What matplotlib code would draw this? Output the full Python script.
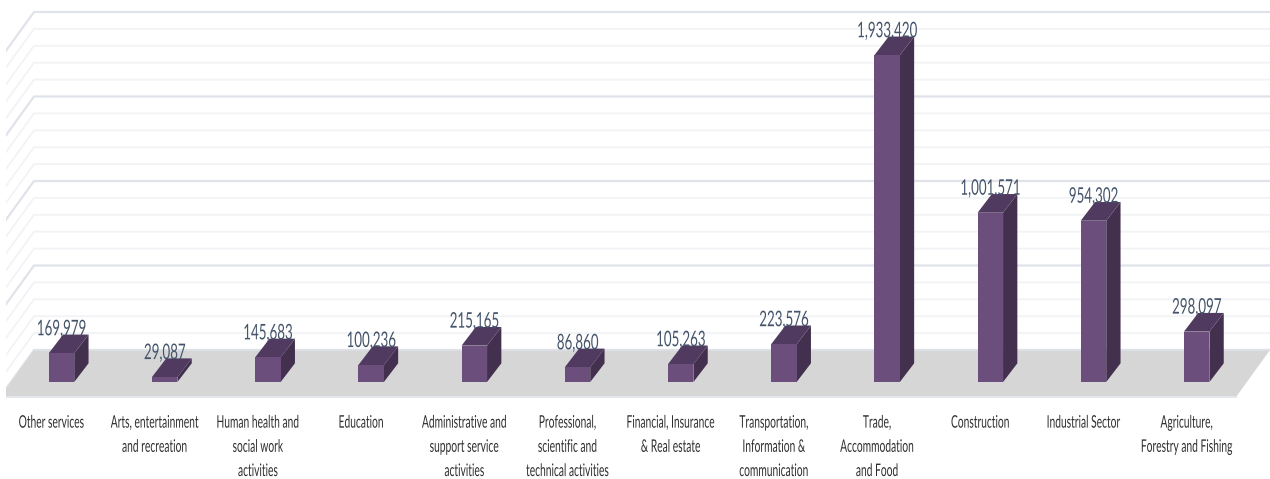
import matplotlib
matplotlib.use("Agg")
import matplotlib.pyplot as plt
import matplotlib.patheffects as pe
from matplotlib.patches import Polygon
from matplotlib.transforms import Affine2D, ScaledTranslation

categories = ["Other services", "Arts, entertainment\nand recreation",
              "Human health and\nsocial work\nactivities", "Education",
              "Administrative and\nsupport service\nactivities",
              "Professional,\nscientific and\ntechnical activities",
              "Financial, Insurance\n& Real estate",
              "Transportation,\nInformation &\ncommunication",
              "Trade,\nAccommodation\nand Food", "Construction",
              "Industrial Sector", "Agriculture,\nForestry and Fishing"]
values = [169979, 29087, 145683, 100236, 215165, 86860, 105263, 223576,
          1933420, 1001571, 954302, 298097]
grid_major = [0, 500000, 1000000, 1500000, 2000000]
grid_minor = [100000, 200000, 300000, 400000, 600000, 700000, 800000, 900000,
              1100000, 1200000, 1300000, 1400000, 1600000, 1700000, 1800000, 1900000]

W, H, DPI = 1270, 479, 100
CAT_PX = 103.2          # pixels per category
VAL_PX = 0.000169       # pixels per unit
X0_PX, Y0_PX = 61.5, 382.0   # pixel of first category and of zero (bar front)
AX_L, AX_R, AX_T, AX_B = 6, 1270, 0, 398

FRONT, SIDE, TOP = "#6B4E7C", "#43304F", "#503A5F"
FLOOR = "#D6D6D6"
MAJOR, MINOR = "#E0E3EA", "#F2F3F6"
VALC, CATC = "#44546A", "#2F2F2F"


class Squeeze(pe.AbstractPathEffect):
    """Narrow the glyph outlines around a pixel column."""
    def __init__(self, sx, cx):
        super().__init__()
        self.sx, self.cx = sx, cx

    def draw_path(self, renderer, gc, tpath, affine, rgbFace=None):
        aff = affine + Affine2D().translate(-self.cx, 0).scale(self.sx, 1).translate(self.cx, 0)
        renderer.draw_path(gc, tpath, aff, rgbFace)


fig = plt.figure(figsize=(W / DPI, H / DPI), dpi=DPI, facecolor="white")
ax = fig.add_axes([AX_L / W, 1 - AX_B / H, (AX_R - AX_L) / W, (AX_B - AX_T) / H])
ax.set_xlim((AX_L - X0_PX) / CAT_PX, (AX_R - X0_PX) / CAT_PX)
ax.set_ylim((Y0_PX - AX_B) / VAL_PX, (Y0_PX - AX_T) / VAL_PX)
for s in ax.spines.values():
    s.set_visible(False)
ax.set_yticks([])
ax.patch.set_visible(False)

# depth vectors, in data units
bar_w = 25.5 / CAT_PX
bdx, bdy = 14.3 / CAT_PX, 18.7 / VAL_PX          # bar depth
wall_x = (34 - X0_PX) / CAT_PX                   # back wall left end
wall_y = 32 / VAL_PX                             # back wall zero above bar-front zero
sdx, sdy = 34 / CAT_PX, 47 / VAL_PX              # side wall / floor depth
right_x = (1270 - X0_PX) / CAT_PX

# gridlines
for vals, col, lw, z in ((grid_minor, MINOR, 1.3, 1), (grid_major, MAJOR, 1.6, 2)):
    for v in vals:
        y = v + wall_y
        ax.plot([wall_x - sdx, wall_x, right_x + 1], [y - sdy, y, y],
                color=col, lw=lw, zorder=z, solid_joinstyle="miter")

# floor
fy = wall_y - sdy
ax.add_patch(Polygon([(wall_x, wall_y), (right_x, wall_y), (right_x - sdx, fy), (wall_x - sdx, fy)],
                     closed=True, facecolor=FLOOR, edgecolor="none", zorder=3))
ax.plot([wall_x - sdx, right_x - sdx], [fy, fy], color="#E3E6EC", lw=1.5, zorder=3)
ax.plot([wall_x, right_x], [wall_y, wall_y], color="#DDE1E9", lw=1.2, zorder=3)

# bars
xs = list(range(len(values)))
ax.bar(xs, values, width=bar_w, color=FRONT, edgecolor="none", zorder=6)
for i, v in zip(xs, values):
    r = i + bar_w / 2
    l = i - bar_w / 2
    ax.add_patch(Polygon([(r, 0), (r + bdx, bdy), (r + bdx, v + bdy), (r, v)],
                         closed=True, facecolor=SIDE, edgecolor="none", zorder=5))
    ax.add_patch(Polygon([(l, v), (r, v), (r + bdx, v + bdy), (l + bdx, v + bdy)],
                         closed=True, facecolor=TOP, edgecolor="none", zorder=5))
    px = ax.transData.transform((i, v))[0]
    ax.annotate(f"{v:,}", xy=(i, v), xytext=(0, 18), textcoords="offset pixels",
                ha="center", va="baseline", family="Lato", fontsize=15.5, color=VALC,
                zorder=8, path_effects=[Squeeze(0.62, px)])

# category labels
ax.set_xticks(xs)
ax.set_xticklabels(categories, family="Lato", fontsize=12.5, color=CATC, linespacing=1.63,
                   ha="center", va="top")
ax.tick_params(axis="x", length=0, pad=12)
shift = ScaledTranslation(-10 / DPI, 0, fig.dpi_scale_trans)
for i, lab in zip(xs, ax.get_xticklabels()):
    lab.set_transform(lab.get_transform() + shift)
    px = ax.transData.transform((i, 0))[0] - 10
    lab.set_path_effects([Squeeze(0.59, px)])

fig.savefig("out.png", dpi=DPI)
